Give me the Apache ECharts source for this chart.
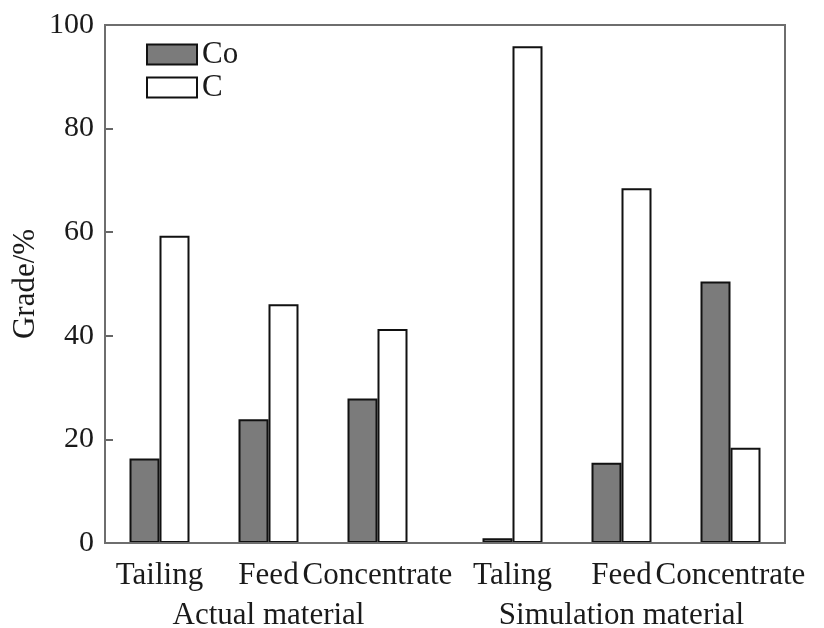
<!DOCTYPE html>
<html>
<head>
<meta charset="utf-8">
<script src="https://cdn.jsdelivr.net/npm/echarts@6/dist/echarts.min.js"></script>
<style>html,body{margin:0;padding:0;background:#fff;}#chart{width:824px;height:628px;}</style>
</head>
<body>
<div id="chart"></div>
<script>
const actualCategories = ['Tailing', 'Feed', 'Concentrate'];
const simulationCategories = ['Taling', 'Feed', 'Concentrate'];
const groupNames = ['Actual material', 'Simulation material'];
const actualCo = [16.3, 23.9, 27.9];
const actualC = [59.3, 46.1, 41.3];
const simulationCo = [0.9, 15.5, 50.5];
const simulationC = [95.9, 68.5, 18.4];
const yTicks = [0, 20, 40, 60, 80, 100];

const FONT = '"Liberation Serif", "Times New Roman", serif';
const TXT = '#1a1a1a';
const chart = echarts.init(document.getElementById('chart'), null, {renderer: 'canvas'});

function xAxisFor(idx, cats, name) {
  return {
    type: 'category', gridIndex: idx, data: cats,
    axisLine: {show: false}, axisTick: {show: false},
    axisLabel: {fontFamily: FONT, fontSize: 31, color: TXT, margin: 17, interval: 0},
    name: name, nameLocation: 'middle', nameGap: 57,
    nameTextStyle: {fontFamily: FONT, fontSize: 31, color: TXT}
  };
}

function barSeries(name, idx, data, color) {
  return {
    name: name, type: 'bar', xAxisIndex: idx, yAxisIndex: idx,
    data: data, barWidth: 30, barGap: '0%',
    itemStyle: {color: color, borderColor: '#111', borderWidth: 2},
    emphasis: {disabled: true}
  };
}

chart.setOption({
  animation: false,
  backgroundColor: '#fff',
  legend: {
    data: ['Co', 'C'], orient: 'vertical', left: 146, top: 39, padding: 0,
    itemWidth: 50, itemHeight: 20, itemGap: 2, icon: 'rect',
    textStyle: {fontFamily: FONT, fontSize: 31, color: TXT}
  },
  grid: [
    {left: 105, top: 25, width: 327, height: 518, outerBoundsMode: 'none', containLabel: false},
    {left: 458, top: 25, width: 327, height: 518, outerBoundsMode: 'none', containLabel: false}
  ],
  xAxis: [
    xAxisFor(0, actualCategories, groupNames[0]),
    xAxisFor(1, simulationCategories, groupNames[1])
  ],
  yAxis: [
    {
      type: 'value', gridIndex: 0, min: yTicks[0], max: yTicks[yTicks.length - 1], interval: 20,
      axisLine: {show: false},
      axisTick: {show: true, inside: true, length: 8, lineStyle: {color: '#666', width: 2}},
      splitLine: {show: false},
      axisLabel: {fontFamily: FONT, fontSize: 30, color: TXT, margin: 11, padding: [7, 0, 0, 0]},
      name: 'Grade/%', nameLocation: 'middle', nameGap: 64, nameRotate: 90,
      nameTextStyle: {fontFamily: FONT, fontSize: 31, color: TXT}
    },
    {
      type: 'value', gridIndex: 1, min: yTicks[0], max: yTicks[yTicks.length - 1], show: false
    }
  ],
  graphic: [{
    type: 'rect', z: 100,
    shape: {x: 105, y: 25, width: 680, height: 518},
    style: {fill: 'none', stroke: '#6e6e6e', lineWidth: 2}
  }],
  series: [
    barSeries('Co', 0, actualCo, '#7b7b7b'),
    barSeries('C', 0, actualC, '#ffffff'),
    barSeries('Co', 1, simulationCo, '#7b7b7b'),
    barSeries('C', 1, simulationC, '#ffffff')
  ]
});
</script>
</body>
</html>
